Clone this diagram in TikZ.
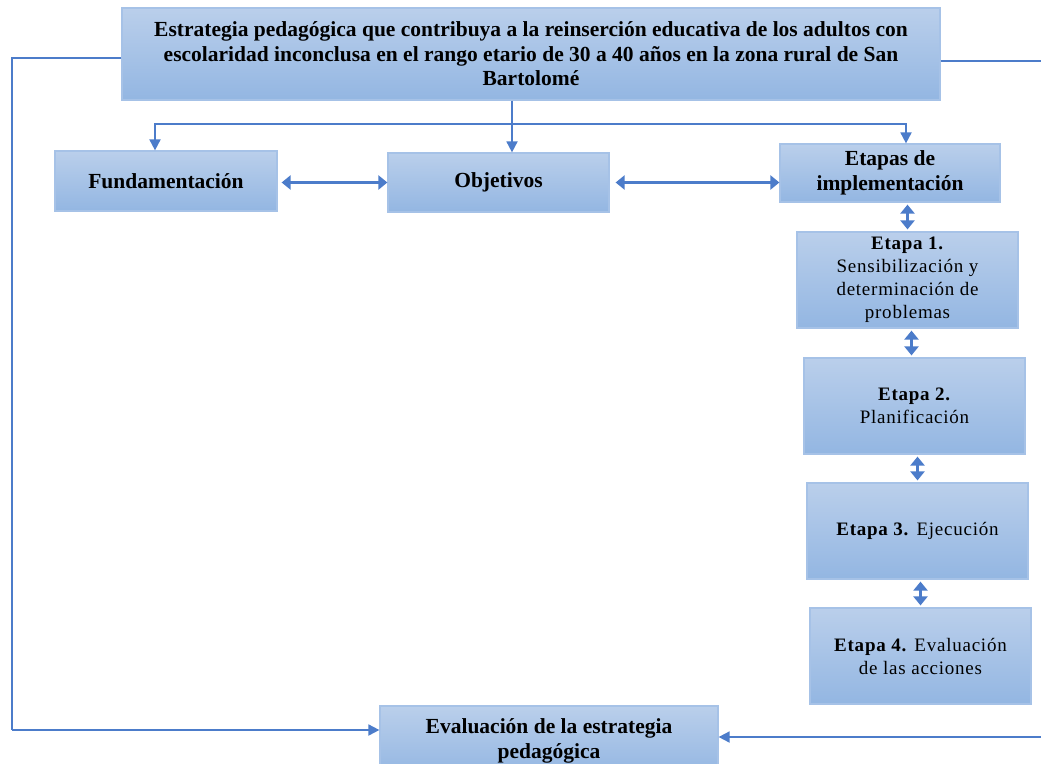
\documentclass[tikz,border=0pt]{standalone}
\usepackage{fontspec}
\setmainfont{Liberation Serif}
\usepackage{xcolor}
\usetikzlibrary{arrows.meta}
\definecolor{boxtop}{RGB}{186,207,235}
\definecolor{boxbot}{RGB}{147,182,226}
\definecolor{boxline}{RGB}{166,194,231}
\definecolor{linkblue}{RGB}{76,124,202}

\tikzset{
  blbox/.style={draw=boxline, line width=1.2pt, top color=boxtop, bottom color=boxbot,
    align=center, inner sep=2pt, font=\fontsize{21.5}{24.5}\selectfont\bfseries},
  etapabox/.style={blbox, font=\fontsize{19}{23}\selectfont\addfontfeature{LetterSpace=4}},
  link/.style={linkblue, line width=1.8pt},
  arr/.style={link, -{Triangle[length=11pt,width=11pt]}},
  dblarr/.style={linkblue, line width=3pt, {Triangle[length=9pt,width=14pt]}-{Triangle[length=9pt,width=14pt]}}
}

\begin{document}
\begin{tikzpicture}[x=1pt, y=-1pt]
  \useasboundingbox (0,0) rectangle (1041,763);
  \clip (0,0) rectangle (1041,763);

  % Strategy box
  \node[blbox, minimum width=818pt, minimum height=92pt] (top) at (531,54)
    {Estrategia pedagógica que contribuya a la reinserción educativa de los adultos con\\
     escolaridad inconclusa en el rango etario de 30 a 40 años en la zona rural de San\\
     Bartolomé};

  % Second row
  \node[blbox, minimum width=222pt, minimum height=60pt] (fund) at (166,181) {Fundamentación};
  \node[blbox, minimum width=221pt, minimum height=59pt] (obj) at (498.5,182.5) {Objetivos};
  \node[blbox, minimum width=220pt, minimum height=58pt] (etapas) at (890,173) {Etapas de\\ implementación};

  % Stages
  \node[etapabox, minimum width=221pt, minimum height=96pt] (e1) at (907.5,280)
    {\textbf{Etapa 1.}\\ Sensibilización y\\ determinación de\\ problemas};
  \node[etapabox, minimum width=221pt, minimum height=96pt] (e2) at (914.5,406)
    {\textbf{Etapa 2.}\\ Planificación};
  \node[etapabox, minimum width=221pt, minimum height=96pt] (e3) at (917.5,531)
    {\textbf{Etapa 3.} Ejecución};
  \node[etapabox, minimum width=221pt, minimum height=96pt] (e4) at (920.5,656)
    {\textbf{Etapa 4.} Evaluación\\ de las acciones};

  % Evaluation box
  \node[blbox, minimum width=338pt, minimum height=70pt] (eval) at (549,741)
    {Evaluación de la estrategia\\ pedagógica};

  % Branching from the strategy
  \coordinate (split) at (512,124);
  \draw[link] (top.south -| split) -- (split);
  \draw[arr] (split) -| ([xshift=-11pt]fund.north);
  \draw[arr] (split) -- (split |- obj.north);
  \draw[arr] (split) -| ([xshift=16pt]etapas.north);

  % Links in the second row
  \draw[dblarr, shorten <=4pt] (fund.east |- obj) -- (obj.west);
  \draw[dblarr, shorten <=6pt] (obj.east) -- (obj.east -| etapas.west);

  % Links between the stages
  \draw[dblarr, shorten <=2pt, shorten >=2pt] (e1.north |- etapas.south) -- (e1.north);
  \draw[dblarr, shorten <=2pt, shorten >=2pt] ([xshift=-3pt]e2.north |- e1.south) -- ([xshift=-3pt]e2.north);
  \draw[dblarr, shorten <=2pt, shorten >=2pt] (e3.north |- e2.south) -- (e3.north);
  \draw[dblarr, shorten <=2pt, shorten >=2pt] (e4.north |- e3.south) -- (e4.north);

  % Feedback loops
  \coordinate (lcorner) at (12,730);
  \coordinate (redge) at (1041,61);
  \coordinate (bedge) at (1041,737);
  \draw[link] ([yshift=-4pt]top.west) -| (lcorner);
  \draw[arr] (lcorner) -- (lcorner -| eval.west);
  \draw[link] ([yshift=-7pt]top.east) -- (redge);
  \draw[arr] (bedge) -- (bedge -| eval.east);
\end{tikzpicture}
\end{document}
